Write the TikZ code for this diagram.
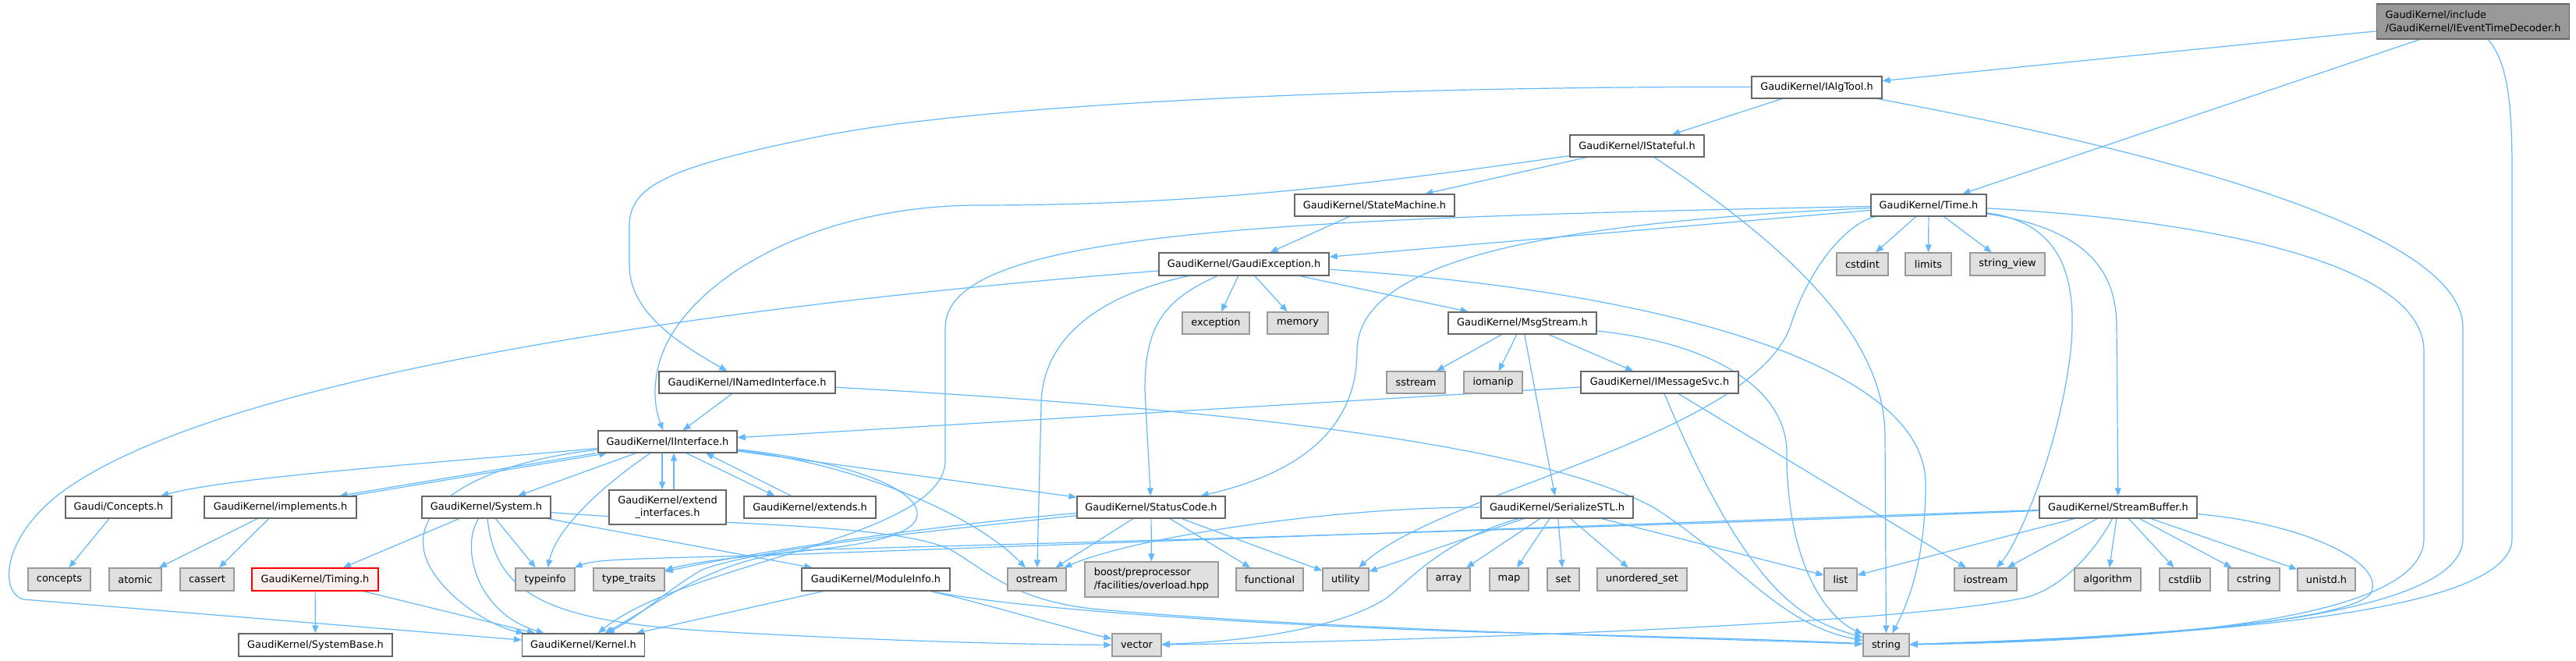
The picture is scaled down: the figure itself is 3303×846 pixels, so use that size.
\documentclass[tikz,border=0pt]{standalone}
\usepackage{fontspec}
\setmainfont{DejaVu Sans}
\usetikzlibrary{arrows.meta,calc}
\definecolor{edgec}{HTML}{63B8FF}
\definecolor{bord}{HTML}{666666}
\definecolor{extb}{HTML}{999999}
\definecolor{extf}{HTML}{E0E0E0}
\definecolor{rootf}{HTML}{999999}
\definecolor{truncf}{HTML}{FFF0F0}
\pgfdeclarelayer{bg}
\pgfsetlayers{bg,main}
\begin{document}
\begin{tikzpicture}[x=1pt,y=-1pt,
  every node/.style={font=\fontsize{12.9}{16.7}\selectfont, inner sep=0pt, line width=1.3pt},
  hdr/.style={draw=bord, fill=white},
  ext/.style={draw=extb, fill=extf},
  rootn/.style={draw=bord, fill=rootf},
  trunc/.style={draw=red, fill=truncf},
  sz/.style 2 args={minimum width=#1pt, minimum height=#2pt},
  e/.style={draw=edgec, line width=1.2pt, -{Triangle[length=10pt,width=8pt]}}
]
\useasboundingbox (0,0) rectangle (3303,846);
% ---------- nodes ----------
\node[rootn, sz={247}{45}, align=left] (root) at (3171,27.5) {GaudiKernel/include\\/GaudiKernel/IEventTimeDecoder.h};
\node[hdr, sz={167}{28}] (IAlgTool) at (2329.5,112) {GaudiKernel/IAlgTool.h};
\node[hdr, sz={148}{28}] (Time) at (2473,263) {GaudiKernel/Time.h};
\node[hdr, sz={172}{28}] (IStateful) at (2099,187) {GaudiKernel/IStateful.h};
\node[hdr, sz={205}{28}] (StateMachine) at (1762.5,263) {GaudiKernel/StateMachine.h};
\node[hdr, sz={226}{28}] (INamedInterface) at (958,490) {GaudiKernel/INamedInterface.h};
\node[hdr, sz={178}{28}] (IInterface) at (856,566) {GaudiKernel/IInterface.h};
\node[hdr, sz={218}{29}] (GaudiException) at (1595,338.5) {GaudiKernel/GaudiException.h};
\node[ext, sz={86}{28}] (exception) at (1559,414) {exception};
\node[ext, sz={78}{28}] (memory) at (1664,414) {memory};
\node[hdr, sz={190}{28}] (MsgStream) at (1952,414) {GaudiKernel/MsgStream.h};
\node[ext, sz={75}{28}] (sstream) at (1815.5,490) {sstream};
\node[ext, sz={75}{28}] (iomanip) at (1914.5,490) {iomanip};
\node[hdr, sz={202}{28}] (IMessageSvc) at (2128,490) {GaudiKernel/IMessageSvc.h};
\node[ext, sz={66}{29}] (cstdint) at (2388,338.5) {cstdint};
\node[ext, sz={59}{29}] (limits) at (2472.5,338.5) {limits};
\node[ext, sz={96}{29}] (string_view) at (2574,338.5) {string\_view};
\node[hdr, sz={136}{28}] (Concepts) at (152,650) {Gaudi/Concepts.h};
\node[hdr, sz={195}{28}] (implements) at (359.5,650) {GaudiKernel/implements.h};
\node[hdr, sz={165}{28}] (System) at (623.5,650) {GaudiKernel/System.h};
\node[hdr, sz={150}{44}, align=center] (extend_interfaces) at (856,650) {GaudiKernel/extend\\\_interfaces.h};
\node[hdr, sz={169}{28}] (extends) at (1038.5,650) {GaudiKernel/extends.h};
\node[ext, sz={80}{29}] (concepts) at (76,742.5) {concepts};
\node[ext, sz={67}{29}] (atomic) at (173.5,742.5) {atomic};
\node[ext, sz={69}{29}] (cassert) at (265.5,742.5) {cassert};
\node[trunc, sz={162}{29}] (Timing) at (404,742.5) {GaudiKernel/Timing.h};
\node[ext, sz={76}{29}] (typeinfo) at (699,742.5) {typeinfo};
\node[ext, sz={91}{29}] (type_traits) at (806.5,742.5) {type\_traits};
\node[hdr, sz={190}{29}] (ModuleInfo) at (1123,742.5) {GaudiKernel/ModuleInfo.h};
\node[hdr, sz={190}{28}] (StatusCode) at (1476,650) {GaudiKernel/StatusCode.h};
\node[hdr, sz={195}{28}] (SerializeSTL) at (1996.5,650) {GaudiKernel/SerializeSTL.h};
\node[ext, sz={75}{29}] (ostream) at (1329.5,742.5) {ostream};
\node[ext, sz={171}{45}, align=left] (boost) at (1476.5,742.5) {boost/preprocessor\\/facilities/overload.hpp};
\node[ext, sz={86}{29}] (functional) at (1628,742.5) {functional};
\node[ext, sz={59}{29}] (utility) at (1725.5,742.5) {utility};
\node[ext, sz={55}{29}] (array) at (1857.5,742.5) {array};
\node[ext, sz={50}{29}] (map) at (1935,742.5) {map};
\node[ext, sz={41}{29}] (set) at (2004.5,742.5) {set};
\node[ext, sz={115}{29}] (unordered_set) at (2105.5,742.5) {unordered\_set};
\node[hdr, sz={202}{28}] (StreamBuffer) at (2716,650) {GaudiKernel/StreamBuffer.h};
\node[ext, sz={42}{29}] (list) at (2360,742.5) {list};
\node[ext, sz={80}{29}] (iostream) at (2546,742.5) {iostream};
\node[ext, sz={85}{29}] (algorithm) at (2702.5,742.5) {algorithm};
\node[ext, sz={65}{29}] (cstdlib) at (2801.5,742.5) {cstdlib};
\node[ext, sz={66}{29}] (cstring) at (2890,742.5) {cstring};
\node[ext, sz={74}{29}] (unistd) at (2983,742.5) {unistd.h};
\node[hdr, sz={197}{29}] (SystemBase) at (404.5,826.5) {GaudiKernel/SystemBase.h};
\node[hdr, sz={157}{29}] (Kernel) at (748,826.5) {GaudiKernel/Kernel.h};
\node[ext, sz={63}{29}] (vector) at (1457.5,826.5) {vector};
\node[ext, sz={59}{29}] (string) at (2418.5,826.5) {string};
% ---------- edges ----------
\begin{pgfonlayer}{bg}
% root
\draw[e] (root) -- (IAlgTool);
\draw[e] (root) -- (Time);
\draw[e] (root) .. controls (3215,80) and (3221,130) .. (3221,220) -- (3221,690) .. controls (3221,790) and (2800,815) .. (string);
% IAlgTool
\draw[e] (IAlgTool) -- (IStateful);
\draw[e] (IAlgTool) .. controls (1900,110) and (1300,125) .. (1050,175) .. controls (850,215) and (807,240) .. (807,290) -- (807,340) .. controls (807,400) and (870,440) .. (INamedInterface);
\draw[e] (IAlgTool) .. controls (2800,200) and (3158,300) .. (3158,420) -- (3158,690) .. controls (3158,790) and (2800,818) .. (string);
% IStateful
\draw[e] (IStateful) -- (StateMachine);
\draw[e] (IStateful) .. controls (1700,245) and (1500,263) .. (1250,263) .. controls (1050,265) and (900,350) .. (855,440) .. controls (835,480) and (838,520) .. (IInterface);
\draw[e] (IStateful) .. controls (2330,340) and (2417,450) .. (2417,560) -- (string);
% StateMachine
\draw[e] (StateMachine) -- (GaudiException);
% Time
\draw[e] (Time) -- (GaudiException);
\draw[e] (Time) .. controls (2000,285) and (1740,330) .. (1740,450) .. controls (1740,560) and (1650,610) .. (StatusCode);
\draw[e] (Time) .. controls (1600,280) and (1212,300) .. (1212,420) -- (1212,590) .. controls (1212,690) and (880,720) .. (Kernel);
\draw[e] (Time) -- (cstdint);
\draw[e] (Time) -- (limits);
\draw[e] (Time) -- (string_view);
\draw[e] (Time) .. controls (2640,285) and (2665,350) .. (2655,450) .. controls (2640,580) and (2585,700) .. (iostream);
\draw[e] (Time) .. controls (2690,295) and (2714,360) .. (2714,420) -- (StreamBuffer);
\draw[e] (Time) .. controls (2370,285) and (2320,340) .. (2295,420) .. controls (2240,560) and (1850,630) .. (utility);
\draw[e] (Time) .. controls (2800,280) and (3108,330) .. (3108,450) -- (3108,690) .. controls (3108,790) and (2800,820) .. (string);
% GaudiException
\draw[e] (GaudiException) .. controls (1000,385) and (300,470) .. (80,630) .. controls (0,690) and (0,760) .. (30,768) -- (Kernel);
\draw[e] (GaudiException) .. controls (1490,385) and (1468,420) .. (1468,500) -- (StatusCode);
\draw[e] (GaudiException) -- (exception);
\draw[e] (GaudiException) -- (memory);
\draw[e] (GaudiException) -- (MsgStream);
\draw[e] (GaudiException) .. controls (1400,380) and (1335,440) .. (1335,520) -- (ostream);
\draw[e] (GaudiException) .. controls (2100,370) and (2469,460) .. (2469,620) .. controls (2469,730) and (2440,785) .. (string);
% MsgStream
\draw[e] (MsgStream) -- (sstream);
\draw[e] (MsgStream) -- (iomanip);
\draw[e] (MsgStream) -- (IMessageSvc);
\draw[e] (MsgStream) -- (SerializeSTL);
\draw[e] (MsgStream) .. controls (2200,440) and (2291,500) .. (2291,580) .. controls (2291,720) and (2340,790) .. (string);
% IMessageSvc
\draw[e] (IMessageSvc) -- (IInterface);
\draw[e] (IMessageSvc) .. controls (2170,590) and (2230,720) .. (2300,775) .. controls (2330,800) and (2360,808) .. (string);
\draw[e] (IMessageSvc) -- (iostream);
% INamedInterface
\draw[e] (INamedInterface) -- (IInterface);
\draw[e] (INamedInterface) .. controls (1500,520) and (1950,560) .. (2120,650) .. controls (2230,720) and (2280,800) .. (string);
% IInterface
\draw[e] (IInterface) .. controls (600,590) and (300,610) .. (Concepts);
\draw[e] ([xshift=-2pt]IInterface.south west) -- ([xshift=76pt]implements.north);
\draw[e] ([xshift=90pt]implements.north) -- ([xshift=12pt]IInterface.south west);
\draw[e] (IInterface) -- (System);
\draw[e] ([xshift=-7pt]IInterface.south) -- ([xshift=-7pt]extend_interfaces.north);
\draw[e] ([xshift=8pt]extend_interfaces.north) -- ([xshift=8pt]IInterface.south);
\draw[e] ([xshift=24pt]IInterface.south) -- ([xshift=-45pt]extends.north);
\draw[e] ([xshift=-24pt]extends.north) -- ([xshift=49pt]IInterface.south);
\draw[e] (IInterface) .. controls (790,610) and (715,670) .. (typeinfo);
\draw[e] (IInterface) .. controls (600,595) and (500,660) .. (560,740) .. controls (590,780) and (640,805) .. (Kernel);
\draw[e] (IInterface) -- (StatusCode);
\draw[e] (IInterface) .. controls (1100,595) and (1250,660) .. (ostream);
\draw[e] (IInterface) .. controls (1120,595) and (1200,640) .. (1170,672) .. controls (1130,710) and (950,705) .. (type_traits);
% implements, Concepts
\draw[e] (implements) -- (atomic);
\draw[e] (implements) -- (cassert);
\draw[e] (Concepts) -- (concepts);
% System
\draw[e] (System) -- (Timing);
\draw[e] (System) -- (typeinfo);
\draw[e] (System) .. controls (590,700) and (610,785) .. (Kernel);
\draw[e] (System) .. controls (635,760) and (700,795) .. (900,808) .. controls (1100,820) and (1300,826) .. (vector);
\draw[e] (System) -- (ModuleInfo);
\draw[e] (System) .. controls (900,672) and (1150,670) .. (1220,705) .. controls (1270,735) and (1300,768) .. (1400,780) .. controls (1700,808) and (2200,818) .. (string);
% Timing
\draw[e] (Timing) -- (SystemBase);
\draw[e] (Timing) -- (Kernel);
% ModuleInfo
\draw[e] (ModuleInfo) -- (Kernel);
\draw[e] (ModuleInfo) .. controls (1250,770) and (1350,800) .. (vector);
\draw[e] (ModuleInfo) .. controls (1300,780) and (1600,800) .. (1900,810) .. controls (2100,815) and (2300,820) .. (string);
% StatusCode
\draw[e] (StatusCode) -- (ostream);
\draw[e] (StatusCode) -- (boost);
\draw[e] (StatusCode) -- (functional);
\draw[e] (StatusCode) -- (utility);
\draw[e] (StatusCode) .. controls (1250,668) and (1000,700) .. (type_traits);
\draw[e] (StatusCode) .. controls (1250,675) and (980,700) .. (900,730) .. controls (850,760) and (820,790) .. (Kernel);
% SerializeSTL
\draw[e] (SerializeSTL) -- (array);
\draw[e] (SerializeSTL) -- (map);
\draw[e] (SerializeSTL) -- (set);
\draw[e] (SerializeSTL) -- (unordered_set);
\draw[e] (SerializeSTL) -- (list);
\draw[e] (SerializeSTL) -- (utility);
\draw[e] (SerializeSTL) .. controls (1700,650) and (1450,690) .. (ostream);
\draw[e] (SerializeSTL) .. controls (1860,690) and (1820,730) .. (1780,765) .. controls (1720,805) and (1600,822) .. (vector);
% StreamBuffer
\draw[e] (StreamBuffer) -- (list);
\draw[e] (StreamBuffer) -- (iostream);
\draw[e] (StreamBuffer) -- (algorithm);
\draw[e] (StreamBuffer) -- (cstdlib);
\draw[e] (StreamBuffer) -- (cstring);
\draw[e] (StreamBuffer) -- (unistd);
\draw[e] (StreamBuffer) .. controls (2950,670) and (3060,720) .. (3040,760) .. controls (3010,800) and (2700,818) .. (string);
\draw[e] (StreamBuffer) .. controls (2690,700) and (2650,750) .. (2600,765) .. controls (2450,800) and (1800,822) .. (vector);
\draw[e] (StreamBuffer) .. controls (2200,668) and (1300,700) .. (1000,711) .. controls (820,716) and (765,716) .. (typeinfo);
\draw[e] (StreamBuffer) .. controls (2200,672) and (1300,698) .. (1050,704) .. controls (920,710) and (850,770) .. (Kernel);
\end{pgfonlayer}
\end{tikzpicture}
\end{document}
